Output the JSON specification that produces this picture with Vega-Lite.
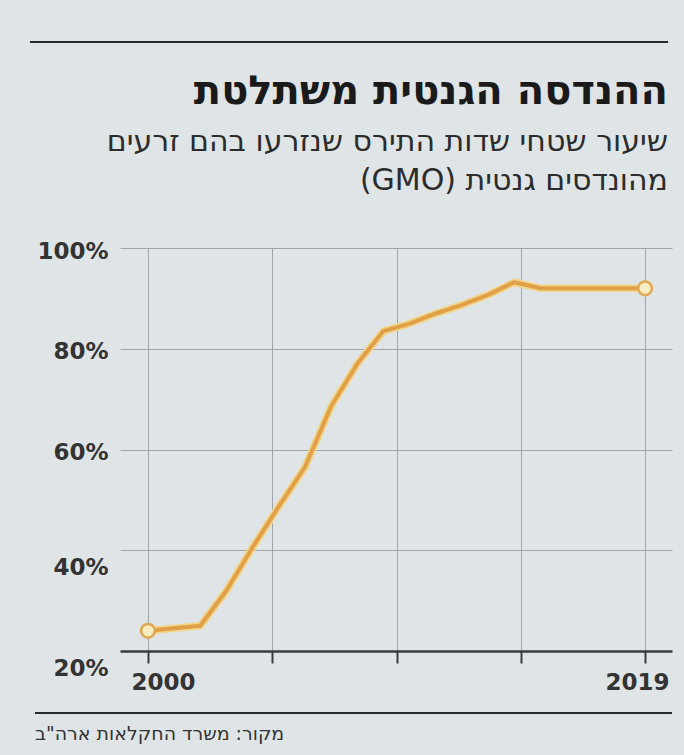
{
  "$schema": "https://vega.github.io/schema/vega-lite/v6.json",
  "width": 552,
  "height": 403,
  "autosize": {"type": "none"},
  "padding": {"left": 120, "top": 248, "right": 12, "bottom": 104},
  "background": "#dfe4e7",
  "config": {"view": {"stroke": null}, "font": "DejaVu Sans"},
  "title": {
    "text": "ההנדסה הגנטית משתלטת",
    "subtitle": ["שיעור שטחי שדות התירס שנזרעו בהם זרעים", "(GMO) מהונדסים גנטית"],
    "anchor": "end",
    "frame": "group",
    "font": "DejaVu Sans",
    "fontSize": 40,
    "fontWeight": "bold",
    "color": "#1a1a1a",
    "subtitleFont": "DejaVu Sans",
    "subtitleFontSize": 30,
    "subtitleColor": "#2c2c2c",
    "subtitleLineHeight": 39,
    "subtitlePadding": 15,
    "offset": -155,
    "dx": -4
  },
  "data": {
    "values": [
      {"year": 2000, "pct": 24},
      {"year": 2001, "pct": 24.5},
      {"year": 2002, "pct": 25},
      {"year": 2003, "pct": 32},
      {"year": 2004, "pct": 40.6},
      {"year": 2005, "pct": 48.7},
      {"year": 2006, "pct": 56.5},
      {"year": 2007, "pct": 68.6},
      {"year": 2008, "pct": 77},
      {"year": 2009, "pct": 83.5},
      {"year": 2010, "pct": 85},
      {"year": 2011, "pct": 87},
      {"year": 2012, "pct": 88.7},
      {"year": 2013, "pct": 90.7},
      {"year": 2014, "pct": 93.2},
      {"year": 2015, "pct": 92},
      {"year": 2016, "pct": 92},
      {"year": 2017, "pct": 92},
      {"year": 2018, "pct": 92},
      {"year": 2019, "pct": 92}
    ]
  },
  "layer": [
    {
      "mark": {"type": "line", "color": "#f2d488", "strokeWidth": 7.5, "strokeJoin": "round", "strokeCap": "round"},
      "encoding": {
        "x": {
          "field": "year",
          "type": "quantitative",
          "scale": {"domain": [1998.93, 2020.03], "nice": false, "zero": false},
          "axis": {
            "title": null,
            "values": [2000, 2004.75, 2009.5, 2014.25, 2019],
            "format": "d",
            "labelExpr": "datum.value == 2000 || datum.value == 2019 ? datum.label : ''",
            "grid": true,
            "gridColor": "#9ea6aa",
            "gridWidth": 1,
            "domainColor": "#3c3c3c",
            "domainWidth": 2.5,
            "tickColor": "#3c3c3c",
            "tickWidth": 2,
            "tickSize": 12,
            "labelFont": "DejaVu Sans",
            "labelFontSize": 23,
            "labelFontWeight": "bold",
            "labelColor": "#333333",
            "labelPadding": 8,
            "labelAlign": "center",
            "labelOffset": {"condition": {"test": "datum.value == 2000", "value": 15}, "value": -8},
            "labelFlush": false,
            "labelOverlap": false
          }
        },
        "y": {
          "field": "pct",
          "type": "quantitative",
          "scale": {"domain": [20, 100], "nice": false, "zero": false},
          "axis": {
            "title": null,
            "values": [20, 40, 60, 80, 100],
            "labelExpr": "datum.value + '%'",
            "grid": true,
            "gridColor": "#9ea6aa",
            "gridWidth": 1,
            "domain": false,
            "ticks": false,
            "labelFont": "DejaVu Sans",
            "labelFontSize": 23,
            "labelFontWeight": "bold",
            "labelColor": "#333333",
            "labelPadding": 12,
            "labelBaseline": "middle",
            "labelOffset": {"condition": {"test": "datum.value <= 40", "value": 17}, "value": 3},
            "labelOverlap": false
          }
        }
      }
    },
    {
      "mark": {"type": "line", "color": "#dfa048", "strokeWidth": 4, "strokeJoin": "round", "strokeCap": "round"},
      "encoding": {
        "x": {"field": "year", "type": "quantitative"},
        "y": {"field": "pct", "type": "quantitative"}
      }
    },
    {
      "transform": [{"filter": "datum.year == 2000 || datum.year == 2019"}],
      "mark": {"type": "point", "filled": true, "fill": "#f8ecc2", "stroke": "#e0a850", "strokeWidth": 2.5, "size": 190, "opacity": 1},
      "encoding": {
        "x": {"field": "year", "type": "quantitative"},
        "y": {"field": "pct", "type": "quantitative"}
      }
    },
    {
      "data": {"values": [{}]},
      "mark": {"type": "rule", "color": "#2a2a2a", "strokeWidth": 2},
      "encoding": {
        "x": {"datum": 1995.49, "type": "quantitative"},
        "x2": {"datum": 2019.88},
        "y": {"datum": 140.9, "type": "quantitative"}
      }
    },
    {
      "data": {"values": [{}]},
      "mark": {"type": "rule", "color": "#2a2a2a", "strokeWidth": 2},
      "encoding": {
        "x": {"datum": 1995.68, "type": "quantitative"},
        "x2": {"datum": 2020.03},
        "y": {"datum": 7.7, "type": "quantitative"}
      }
    },
    {
      "data": {"values": [{}]},
      "mark": {"type": "text", "align": "left", "baseline": "middle", "fontSize": 19, "color": "#333333", "font": "DejaVu Sans"},
      "encoding": {
        "x": {"datum": 1995.68, "type": "quantitative"},
        "y": {"datum": 3.5, "type": "quantitative"},
        "text": {"value": "מקור: משרד החקלאות ארה\"ב"}
      }
    }
  ]
}
